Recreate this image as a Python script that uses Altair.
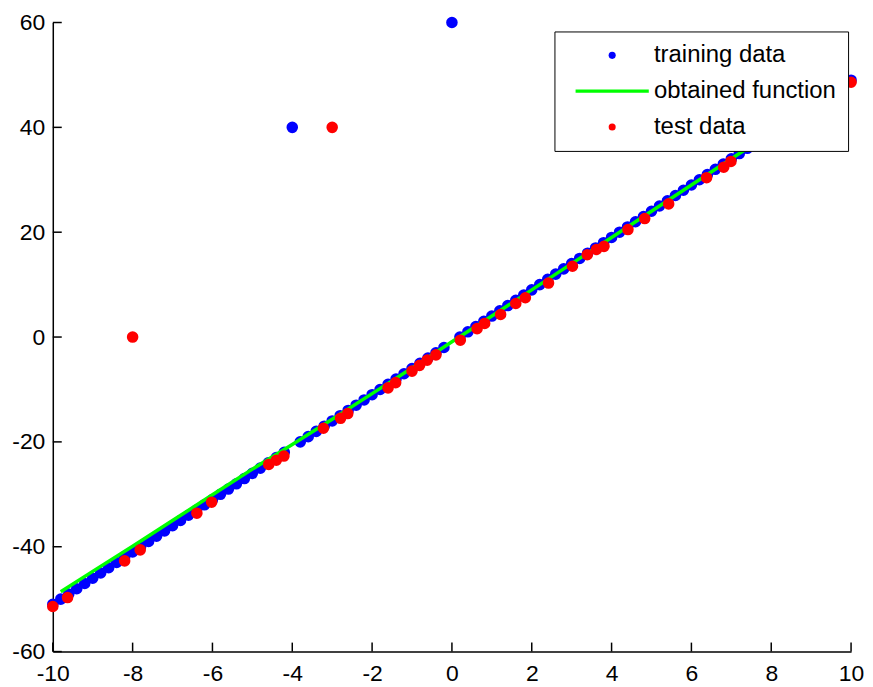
import altair as alt
import pandas as pd

# ---- data ----
train_x = [-10.0, -9.8, -9.6, -9.4, -9.2, -9.0, -8.8, -8.6, -8.4, -8.2,
           -8.0, -7.8, -7.6, -7.4, -7.2, -7.0, -6.8, -6.6, -6.4, -6.2,
           -6.0, -5.8, -5.6, -5.4, -5.2, -5.0, -4.8, -4.6, -4.4, -4.2,
           -4.0, -3.8, -3.6, -3.4, -3.2, -3.0, -2.8, -2.6, -2.4, -2.2,
           -2.0, -1.8, -1.6, -1.4, -1.2, -1.0, -0.8, -0.6, -0.4, -0.2,
           0.0, 0.2, 0.4, 0.6, 0.8, 1.0, 1.2, 1.4, 1.6, 1.8,
           2.0, 2.2, 2.4, 2.6, 2.8, 3.0, 3.2, 3.4, 3.6, 3.8,
           4.0, 4.2, 4.4, 4.6, 4.8, 5.0, 5.2, 5.4, 5.6, 5.8,
           6.0, 6.2, 6.4, 6.6, 6.8, 7.0, 7.2, 7.4, 7.6, 7.8,
           8.0, 8.2, 8.4, 8.6, 8.8, 9.0, 9.2, 9.4, 9.6, 9.8,
           10.0]
train_y = [-51, -50, -49, -48, -47, -46, -45, -44, -43, -42,
           -41, -40, -39, -38, -37, -36, -35, -34, -33, -32,
           -31, -30, -29, -28, -27, -26, -25, -24, -23, -22,
           40, -20, -19, -18, -17, -16, -15, -14, -13, -12,
           -11, -10, -9, -8, -7, -6, -5, -4, -3, -2,
           60, 0, 1, 2, 3, 4, 5, 6, 7, 8,
           9, 10, 11, 12, 13, 14, 15, 16, 17, 18,
           19, 20, 21, 22, 23, 24, 25, 26, 27, 28,
           29, 30, 31, 32, 33, 34, 35, 36, 37, 38,
           39, 40, 41, 42, 43, 44, 45, 46, 47, 48,
           49]

test_x = [-10.0, -9.63, -8.2, -7.81, -6.39, -6.02, -4.59, -4.4, -4.21, -3.22,
          -2.79, -2.61, -1.6, -1.41, -1.0, -0.81, -0.62, -0.4, 0.21, 0.63,
          0.82, 1.22, 1.6, 1.84, 2.42, 3.02, 3.39, 3.62, 3.81, 4.41,
          4.83, 5.43, 6.38, 6.81, 6.99, 10.0, -8.0, -3.0]
test_y = [-51.4, -49.7, -42.7, -40.6, -33.6, -31.5, -24.3, -23.5, -22.7, -17.4,
          -15.5, -14.6, -9.7, -8.7, -6.5, -5.4, -4.4, -3.4, -0.6, 1.6,
          2.6, 4.3, 6.4, 7.5, 10.3, 13.5, 15.7, 16.7, 17.3, 20.5,
          22.6, 25.4, 30.4, 32.4, 33.5, 48.6, 0.0, 40.0]

fit_x = [-9.8, -9.0, -8.0, -7.0, -6.0, -5.0, -4.0, -3.0, -2.0, -1.0,
         0.0, 1.0, 2.0, 3.0, 4.0, 5.0, 6.0, 7.0, 8.0, 9.0, 9.6]
fit_y = [-48.6, -44.7, -39.9, -35.0, -30.1, -25.2, -20.5, -15.7, -10.8, -5.9,
         -0.9, 4.0, 9.0, 14.0, 19.0, 24.0, 29.0, 34.0, 39.0, 44.0, 47.0]

x_ticks = [-10, -8, -6, -4, -2, 0, 2, 4, 6, 8, 10]
y_ticks = [-60, -40, -20, 0, 20, 40, 60]

series_names = ["training data", "obtained function", "test data"]
series_colors = ["#0000ff", "#00ff00", "#ff0000"]
LINE_SYMBOL = "M-10.4,-0.45L10.4,-0.45L10.4,0.45L-10.4,0.45Z"
series_shapes = ["circle", LINE_SYMBOL, "circle"]

# ---- chart ----
W, H = 802, 632
FONT = "Liberation Sans"

train_df = pd.DataFrame({"x": train_x, "y": train_y, "series": series_names[0]})
test_df = pd.DataFrame({"x": test_x, "y": test_y, "series": series_names[2]})
fit_df = pd.DataFrame({"x": fit_x, "y": fit_y})

xs = alt.Scale(domain=[-10, 10], nice=False, zero=False)
ys = alt.Scale(domain=[-60, 60], nice=False, zero=False)

x_axis = alt.Axis(values=x_ticks, ticks=False, grid=False, domainColor="black",
                  domainWidth=1.5, labelFont=FONT, labelFontSize=23, labelColor="black",
                  labelPadding=11, labelExpr="'' + datum.value", title=None,
                  labelFlush=False, labelOverlap=False)
y_axis = alt.Axis(values=y_ticks, ticks=False, grid=False, domainColor="black",
                  domainWidth=1.5, labelFont=FONT, labelFontSize=23, labelColor="black",
                  labelPadding=8, labelExpr="'' + datum.value", title=None,
                  labelFlush=False, labelOverlap=False)

legend = alt.Legend(title=None, orient="none", legendX=504, legendY=9,
                    strokeColor="black", fillColor="white", padding=12,
                    labelFont=FONT, labelFontSize=24, labelColor="black", labelLimit=500,
                    symbolSize=50, symbolOffset=34, labelOffset=30, rowPadding=12,
                    symbolStrokeWidth=0)

cs = alt.Scale(domain=series_names, range=series_colors)
ss = alt.Scale(domain=series_names, range=series_shapes)


def points(df):
    return alt.Chart(df).mark_point(filled=True, size=135, opacity=1).encode(
        x=alt.X("x:Q", scale=xs, axis=x_axis),
        y=alt.Y("y:Q", scale=ys, axis=y_axis),
        color=alt.Color("series:N", scale=cs, legend=legend),
        shape=alt.Shape("series:N", scale=ss, legend=legend),
    )


train = points(train_df)
test = points(test_df)

fit = alt.Chart(fit_df).mark_line(color="#00ff00", strokeWidth=3.5).encode(
    x=alt.X("x:Q", scale=xs, axis=x_axis),
    y=alt.Y("y:Q", scale=ys, axis=y_axis),
)

xt = alt.Chart(pd.DataFrame({"v": x_ticks})).mark_rule(color="black", strokeWidth=1.5).encode(
    x=alt.X("v:Q", scale=xs, axis=x_axis),
    y=alt.value(H),
    y2=alt.value(H - 9),
)
yt = alt.Chart(pd.DataFrame({"v": y_ticks})).mark_rule(color="black", strokeWidth=1.5).encode(
    y=alt.Y("v:Q", scale=ys, axis=y_axis),
    x=alt.value(0),
    x2=alt.value(9),
)

chart = alt.layer(train, fit, test, xt, yt).properties(
    width=W, height=H,
    padding={"left": 45, "top": 13, "right": 14, "bottom": 32},
    autosize=alt.AutoSizeParams(type="none"),
).configure_view(stroke=None)

chart.save("out.html", embed_options={"renderer": "svg", "actions": False})
